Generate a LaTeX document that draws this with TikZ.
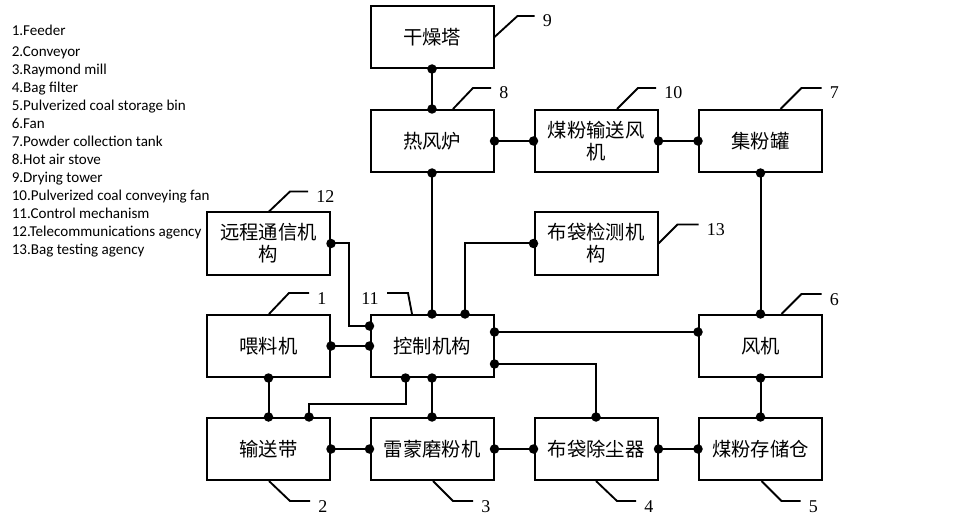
\documentclass[tikz,border=0pt]{standalone}
\usepackage{fontspec}
\setmainfont{Liberation Serif}
\newfontfamily\cjkfont{Noto Sans CJK SC}
\newfontfamily\legfont{Carlito}
\usetikzlibrary{calc,arrows.meta}
\begin{document}
\begin{tikzpicture}[x=0.75pt,y=-0.75pt,
  box/.style={draw, line width=1.5pt, minimum width=92.25pt, minimum height=46.5pt,
    inner sep=0pt, align=center, font=\cjkfont\fontsize{14.5pt}{16.5pt}\selectfont},
  conn/.style={line width=1.5pt, {Circle[length=7pt]}-{Circle[length=7pt]},
    shorten <=-3.5pt, shorten >=-3.5pt},
  lead/.style={line width=1.4pt},
  num/.style={anchor=base west, inner sep=0pt, font=\fontsize{13.5pt}{14pt}\selectfont},
  leg/.style={anchor=base west, inner sep=0pt, font=\legfont\fontsize{11.3pt}{13pt}\selectfont}]
\useasboundingbox[fill=white] (0,0) rectangle (977,527);

% legend
\node[leg] (g1)  at (11.5,36)    {1.Feeder};
\node[leg] (g2)  at (11.5,56.7)  {2.Conveyor};
\node[leg] (g3)  at (11.5,74.7)  {3.Raymond mill};
\node[leg] (g4)  at (11.5,92.7)  {4.Bag filter};
\node[leg] (g5)  at (11.5,110.7) {5.Pulverized coal storage bin};
\node[leg] (g6)  at (11.5,128.7) {6.Fan};
\node[leg] (g7)  at (11.5,146.7) {7.Powder collection tank};
\node[leg] (g8)  at (11.5,164.7) {8.Hot air stove};
\node[leg] (g9)  at (11.5,182.7) {9.Drying tower};
\node[leg] (g10) at (11.5,200.7) {10.Pulverized coal conveying fan};
\node[leg] (g11) at (11.5,218.7) {11.Control mechanism};
\node[leg] (g12) at (11.5,236.7) {12.Telecommunications agency};
\node[leg] (g13) at (11.5,254.7) {13.Bag testing agency};

% boxes
\node[box] (n9)  at (432,37)      {干燥塔};
\node[box] (n8)  at (432,141)     {热风炉};
\node[box] (n10) at (596,141)     {煤粉输送风\\机};
\node[box] (n7)  at (760.5,141)   {集粉罐};
\node[box] (n12) at (268.5,243.5) {远程通信机\\构};
\node[box] (n13) at (596,243.5)   {布袋检测机\\构};
\node[box] (n1)  at (268.5,346)   {喂料机};
\node[box] (n11) at (432,346)     {控制机构};
\node[box] (n6)  at (760.5,346)   {风机};
\node[box] (n2)  at (268.5,449)   {输送带};
\node[box] (n3)  at (432,449)     {雷蒙磨粉机};
\node[box] (n4)  at (596,449)     {布袋除尘器};
\node[box] (n5)  at (760.5,449)   {煤粉存储仓};

% connectors
\draw[conn] (n9.south) -- (n8.north);
\draw[conn] (n8.east) -- (n10.west);
\draw[conn] (n10.east) -- (n7.west);
\draw[conn] (n8.south) -- (n11.north);
\coordinate (j13) at ($(n11.north)+(33,0)$);
\draw[conn] (n13.west) -| (j13);
\coordinate (j12) at ($(n11.west)+(0,-20)$);
\draw[conn] (n12.east) -- ++(18,0) |- (j12);
\draw[conn] (n1.east) -- (n11.west);
\coordinate (j6) at ($(n11.east)+(0,-14)$);
\draw[conn] (j6) -- (j6 -| n6.west);
\coordinate (j4) at ($(n11.east)+(0,18)$);
\draw[conn] (j4) -| (n4.north);
\draw[conn] (n7.south) -- (n6.north);
\draw[conn] (n6.south) -- (n5.north);
\draw[conn] (n2.east) -- (n3.west);
\draw[conn] (n3.east) -- (n4.west);
\draw[conn] (n4.east) -- (n5.west);
\draw[conn] (n11.south) -- (n3.north);
\coordinate (j2a) at ($(n11.south)+(-26.5,0)$);
\coordinate (j2b) at ($(n2.north)+(40.5,0)$);
\draw[conn] (j2a) -- ++(0,26) -| (j2b);
\draw[conn] (n1.south) -- (n2.north);

% leader lines and numbers
\draw[lead] (n9.east) -- ++(23,-21) -- ++(17,0) coordinate (t9);
\node[num] (l9) at ($(t9)+(8,11)$) {9};
\draw[lead] ($(n8.north)+(21,0)$) -- ++(20,-21) -- ++(18,0) coordinate (t8);
\node[num] (l8) at ($(t8)+(8,11)$) {8};
\draw[lead] ($(n10.north)+(21,0)$) -- ++(21,-21) -- ++(18,0) coordinate (t10);
\node[num] (l10) at ($(t10)+(8,11)$) {10};
\draw[lead] ($(n7.north)+(20,0)$) -- ++(21,-21) -- ++(20,0) coordinate (t7);
\node[num] (l7) at ($(t7)+(8,11)$) {7};
\draw[lead] (n13.east) -- ++(19,-19) -- ++(21,0) coordinate (t13);
\node[num] (l13) at ($(t13)+(8,11)$) {13};
\draw[lead] ($(n12.north)+(0.5,0)$) -- ++(21,-20) -- ++(18,0) coordinate (t12);
\node[num] (l12) at ($(t12)+(8,11)$) {12};
\draw[lead] ($(n6.north)+(21,0)$) -- ++(20,-20) -- ++(20,0) coordinate (t6);
\node[num] (l6) at ($(t6)+(8,11)$) {6};
\draw[lead] ($(n1.north)+(0.5,0)$) -- ++(20,-21) -- ++(20,0) coordinate (t1);
\node[num] (l1) at ($(t1)+(8,11)$) {1};
\draw[lead] ($(n11.north)+(-20,0)$) -- ++(-4,-21) -- ++(-21,0) coordinate (t11);
\node[num, anchor=base east] (l11) at ($(t11)+(-8,11)$) {11};
\draw[lead] ($(n2.south)+(0.5,0)$) -- ++(21,20) -- ++(20,0) coordinate (t2);
\node[num] (l2) at ($(t2)+(8,11)$) {2};
\draw[lead] ($(n3.south)+(1,0)$) -- ++(20,20) -- ++(20,0) coordinate (t3);
\node[num] (l3) at ($(t3)+(8,11)$) {3};
\draw[lead] (n4.south) -- ++(21,20) -- ++(19,0) coordinate (t4);
\node[num] (l4) at ($(t4)+(8,11)$) {4};
\draw[lead] ($(n5.south)+(1,0)$) -- ++(20,20) -- ++(19,0) coordinate (t5);
\node[num] (l5) at ($(t5)+(8,11)$) {5};
\end{tikzpicture}
\end{document}
